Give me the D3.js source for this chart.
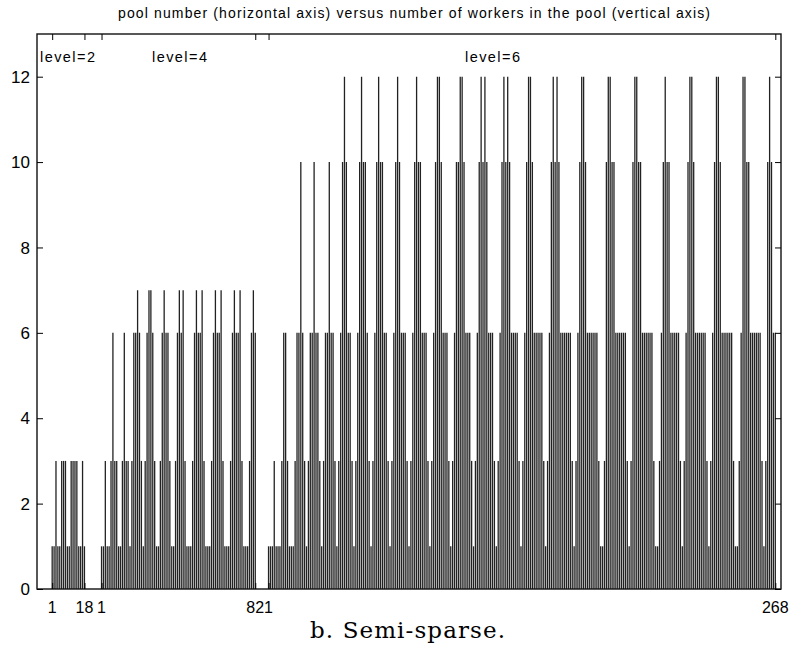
<!DOCTYPE html>
<html>
<head>
<meta charset="utf-8">
<script src="https://cdn.jsdelivr.net/npm/d3@7"></script>
<style>
  body { margin: 0; background: #fff; }
  svg { display: block; }
</style>
</head>
<body>
<div id="chart"></div>
<script>
// workers per pool, one array per tree level
const level2Workers = [1,1,3,1,1,3,3,3,1,1,3,3,3,3,1,1,3,1];

const level4Workers = [
  1,1,3,1,1,3,6,3,3,1,
  1,3,6,3,3,1,3,6,6,7,
  6,3,1,3,6,7,7,6,3,1,
  1,3,6,7,6,6,3,1,1,3,
  6,7,6,7,3,1,1,1,3,6,
  7,6,6,7,3,1,1,1,3,6,
  7,6,6,7,3,1,1,1,3,6,
  7,6,6,7,3,1,1,1,3,6,
  7,6
];

const level6Workers = [
  1,1,1,3,1,1,1,3,6,6,
  3,1,1,1,3,6,6,10,6,3,
  1,3,6,6,10,6,6,3,1,3,
  6,6,10,6,6,3,1,3,6,10,
  12,10,6,6,3,1,3,6,10,12,
  10,10,6,3,1,3,6,10,12,10,
  10,6,6,3,1,3,6,10,12,10,
  6,6,6,3,1,3,6,10,12,10,
  10,6,6,6,3,1,3,6,10,12,
  12,10,6,6,6,3,1,3,6,10,
  10,12,12,10,6,6,6,3,1,3,
  6,10,12,10,12,10,6,6,6,3,
  1,3,6,10,12,10,12,10,6,6,
  6,6,3,1,3,6,10,12,12,10,
  6,6,6,6,6,3,1,3,6,10,
  12,10,12,10,6,6,6,6,6,6,
  3,1,3,6,10,12,12,10,6,6,
  6,6,6,6,3,1,1,3,10,12,
  12,10,10,6,6,6,6,6,6,3,
  1,3,10,12,12,10,10,6,6,6,
  6,6,6,3,1,1,3,6,10,12,
  10,10,6,6,6,6,6,3,1,3,
  6,10,12,12,10,6,6,6,6,6,
  6,3,1,3,6,10,12,12,10,6,
  6,6,6,6,6,3,1,1,3,6,
  12,12,10,10,6,6,6,6,6,6,
  3,1,3,10,12,10,6,6
];

const levels = ["level=2", "level=4", "level=6"];
const levelOffsets = [0, 26, 114];       // where each level starts on the shared pool axis
const xTickLabels = ["1", "18", "1", "82", "1", "268"];
const xTickPools = [1, 18, 27, 108, 115, 382];
const yTicks = [0, 2, 4, 6, 8, 10, 12];

const width = 795, height = 647;
const margin = { left: 37, right: 14, top: 34, bottom: 58 };

const pools = [];
[level2Workers, level4Workers, level6Workers].forEach((arr, li) => {
  arr.forEach((w, k) => pools.push({ level: li, pos: levelOffsets[li] + k + 1, workers: w }));
});

const xScale = d3.scaleLinear()
  .domain([-7, 385])
  .range([margin.left, width - margin.right]);
const yScale = d3.scaleLinear()
  .domain([0, 13])
  .range([height - margin.bottom, margin.top]);

const svg = d3.select("#chart")
  .append("svg")
    .attr("width", width)
    .attr("height", height)
    .style("font-family", "'Liberation Sans', Arial, sans-serif");

// title
svg.append("text")
  .attr("x", 118)
  .attr("y", 18)
  .attr("textLength", 592)
  .attr("lengthAdjust", "spacing")
  .style("font-size", "14px")
  .text("pool number (horizontal axis) versus number of workers in the pool (vertical axis)");

// impulses, one line per pool
svg.append("g")
  .selectAll("line")
  .data(pools)
  .join("line")
    .attr("x1", d => xScale(d.pos))
    .attr("x2", d => xScale(d.pos))
    .attr("y1", yScale(0))
    .attr("y2", d => yScale(d.workers))
    .attr("stroke", "#222")
    .attr("stroke-width", 1.3);

const x0 = margin.left, x1 = width - margin.right;
const y0 = height - margin.bottom, y1 = margin.top;

// frame
svg.append("rect")
  .attr("x", x0).attr("y", y1)
  .attr("width", x1 - x0).attr("height", y0 - y1)
  .attr("fill", "none")
  .attr("stroke", "#111")
  .attr("stroke-width", 1.4);

// y axis ticks both sides, pointing inwards
const yAxisL = d3.axisRight(yScale).tickValues(yTicks).tickSize(6).tickFormat("");
const yAxisR = d3.axisLeft(yScale).tickValues(yTicks).tickSize(6).tickFormat("");
svg.append("g").attr("transform", `translate(${x0},0)`).call(yAxisL).call(g => g.select(".domain").remove());
svg.append("g").attr("transform", `translate(${x1},0)`).call(yAxisR).call(g => g.select(".domain").remove());

svg.append("g")
  .selectAll("text")
  .data(yTicks)
  .join("text")
    .attr("x", 30)
    .attr("y", d => yScale(d))
    .attr("dy", "0.36em")
    .attr("text-anchor", "end")
    .style("font-size", "17px")
    .text(d => d);

// x ticks (top pointing down, bottom pointing up)
const xAxisT = d3.axisBottom(xScale).tickValues(xTickPools).tickSize(6).tickFormat("");
const xAxisB = d3.axisTop(xScale).tickValues(xTickPools).tickSize(6).tickFormat("");
svg.append("g").attr("transform", `translate(0,${y1})`).call(xAxisT).call(g => g.select(".domain").remove());
svg.append("g").attr("transform", `translate(0,${y0})`).call(xAxisB).call(g => g.select(".domain").remove());

svg.append("g")
  .selectAll("text")
  .data(xTickPools)
  .join("text")
    .attr("x", d => xScale(d))
    .attr("y", 613)
    .attr("text-anchor", "middle")
    .style("font-size", "16px")
    .text((d, i) => xTickLabels[i]);

// level labels
const levelLabelX = [40, 152, 465];
svg.append("g")
  .selectAll("text")
  .data(levels)
  .join("text")
    .attr("x", (d, i) => levelLabelX[i])
    .attr("y", 62)
    .attr("textLength", 55)
    .attr("lengthAdjust", "spacing")
    .style("font-size", "14.5px")
    .text(d => d);

// caption
svg.append("text")
  .attr("x", 310)
  .attr("y", 638)
  .attr("textLength", 195)
  .attr("lengthAdjust", "spacing")
  .style("font-family", "'DejaVu Serif', serif")
  .style("font-size", "23px")
  .text("b. Semi-sparse.");
</script>
</body>
</html>
